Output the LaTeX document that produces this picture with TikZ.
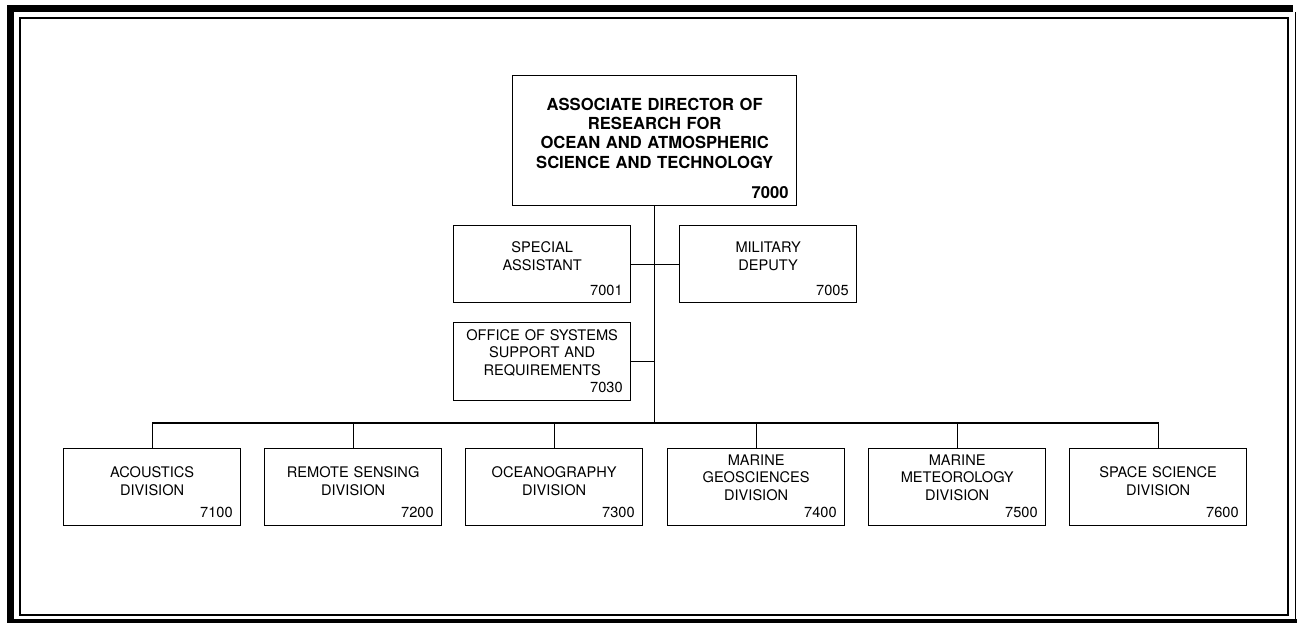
\documentclass[tikz,border=0pt]{standalone}
\usepackage{fontspec}
\setmainfont{TeX Gyre Heros}

\begin{document}
\begin{tikzpicture}[x=1pt, y=-1pt, line width=1.1pt,
  unit/.style={draw, line width=1.3pt, anchor=north west, inner xsep=8pt,
    inner ysep=0pt, text width=161pt, minimum height=77pt, align=center,
    font=\fontsize{14.6}{17.5}\selectfont},
  head/.style={unit, text width=268pt, minimum height=130pt,
    font=\bfseries\fontsize{16.6}{19.3}\selectfont}]
  \useasboundingbox (0,0) rectangle (1297,624);
  % heavy outer frame, thin inner frame
  \draw[line width=7pt] (1293,8.5) -- (10.5,8.5) -- (10.5,623);
  \draw[line width=4pt] (7,621) -- (1297,621);
  \draw[line width=1.5pt] (1295.5,12) -- (1295.5,623);
  \draw[line width=1.2pt] (20,18) rectangle (1288,615);
  % director
  \node[head, text height=27pt] (adr) at (512,75)
    {ASSOCIATE DIRECTOR OF\\RESEARCH FOR\\OCEAN AND ATMOSPHERIC\\SCIENCE AND TECHNOLOGY\\[10.7pt]\hfill 7000};
  % staff offices
  \node[unit, text height=20pt] (sa) at (453,225) {SPECIAL\\ASSISTANT\\[8pt]\hfill 7001};
  \node[unit, text height=20pt] (md) at (679,225) {MILITARY\\DEPUTY\\[8pt]\hfill 7005};
  \node[unit, text height=10pt, minimum height=78pt] (ossr) at (453,322)
    {OFFICE OF SYSTEMS\\SUPPORT AND\\REQUIREMENTS\\\hfill 7030};
  % divisions
  \node[unit, text height=21pt] (acou) at (63,448) {ACOUSTICS\\DIVISION\\[5pt]\hfill 7100};
  \node[unit, text height=21pt] (rsd) at (264,448) {REMOTE SENSING\\DIVISION\\[5pt]\hfill 7200};
  \node[unit, text height=21pt] (ocd) at (465,448) {OCEANOGRAPHY\\DIVISION\\[5pt]\hfill 7300};
  \node[unit, text height=9pt] (mgd) at (667,448) {MARINE\\GEOSCIENCES\\DIVISION\\\hfill 7400};
  \node[unit, text height=9pt] (mmd) at (868,448) {MARINE\\METEOROLOGY\\DIVISION\\\hfill 7500};
  \node[unit, text height=21pt] (ssd) at (1069,448) {SPACE SCIENCE\\DIVISION\\[5pt]\hfill 7600};
  % connectors
  \coordinate (bus) at (654,423);
  \draw (adr.south) -- (adr.south |- bus);
  \draw (sa.east) -- (md.west);
  \draw (ossr.east) -- (ossr.east -| adr.south);
  \draw (acou.north) |- (bus) -| (ssd.north);
  \draw (rsd.north) -- (rsd.north |- bus);
  \draw (ocd.north) -- (ocd.north |- bus);
  \draw (mgd.north) -- (mgd.north |- bus);
  \draw (mmd.north) -- (mmd.north |- bus);
\end{tikzpicture}
\end{document}
